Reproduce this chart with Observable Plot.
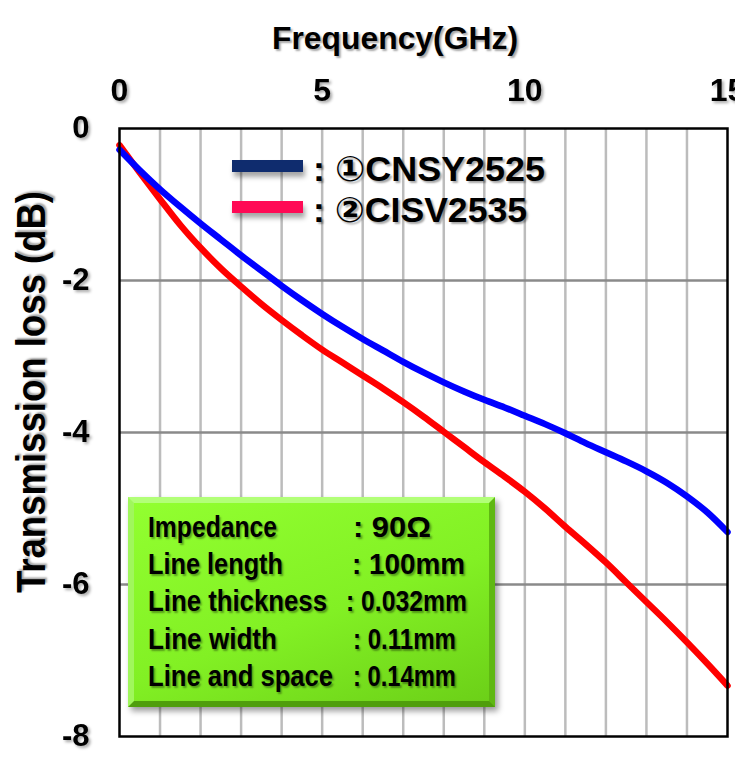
<!DOCTYPE html>
<html>
<head>
<meta charset="utf-8">
<script src="https://cdn.jsdelivr.net/npm/d3@7"></script>
<script src="https://cdn.jsdelivr.net/npm/@observablehq/plot@0.6"></script>
<style>
  html, body { margin: 0; padding: 0; background: #fff; overflow: hidden; }
  #wrap { position: relative; width: 735px; height: 760px; }
  .f { font-family: "Liberation Sans", Arial, "DejaVu Sans", sans-serif; font-weight: bold; color: #000; }
  .shadow { text-shadow: 2px 2px 2px rgba(0,0,0,0.35); }
  #wrap svg text { filter: drop-shadow(2px 2px 1.5px rgba(0,0,0,0.35)); }
  .abs { position: absolute; white-space: nowrap; line-height: 1; }
  .sw { position: absolute; height: 12px; box-shadow: 2px 5px 5px rgba(0,0,0,0.35); }
  #info { position: absolute; left: 128px; top: 497px; width: 367px; height: 210px; box-sizing: border-box;
          background: linear-gradient(160deg, #92ff30, #82f024 55%, #6cd018);
          border: 6px solid; border-color: #b2ff78 #5fb812 #4f9e0c #a0f75c;
          box-shadow: 3px 4px 6px rgba(0,0,0,0.4); }
</style>
</head>
<body>
<div id="wrap"></div>
<script>
// ---- data ----
const freq = [0,0.5,1,1.5,2,2.5,3,3.5,4,4.5,5,5.5,6,6.5,7,7.5,8,8.5,9,9.5,10,10.5,11,11.5,12,12.5,13,13.5,14,14.5,15];
const cnsy2525 = [-0.28,-0.55,-0.80,-1.03,-1.25,-1.46,-1.67,-1.87,-2.07,-2.26,-2.44,-2.61,-2.77,-2.92,-3.07,-3.21,-3.34,-3.46,-3.57,-3.67,-3.78,-3.89,-4.01,-4.14,-4.26,-4.38,-4.51,-4.66,-4.84,-5.05,-5.31];
const cisv2535 = [-0.22,-0.58,-0.93,-1.27,-1.57,-1.84,-2.08,-2.31,-2.52,-2.72,-2.91,-3.08,-3.25,-3.42,-3.60,-3.79,-3.99,-4.19,-4.39,-4.58,-4.78,-5.00,-5.24,-5.47,-5.71,-5.97,-6.23,-6.49,-6.76,-7.04,-7.33];
const xTicks = [0,5,10,15];
const yTicks = [0,-2,-4,-6,-8];
const xGrid = [1,2,3,4,5,6,7,8,9,10,11,12,13,14];
const yGrid = [-2,-4,-6];
const seriesNames = [": \u2460CNSY2525", ": \u2461CISV2535"];
const infoLabels = ["Impedance","Line length","Line thickness","Line width","Line and space"];
const infoValues = [": 90\u03A9",": 100mm",": 0.032mm",": 0.11mm",": 0.14mm"];

const rowsCNSY = freq.map((f,i)=>({f, v: cnsy2525[i]}));
const rowsCISV = freq.map((f,i)=>({f, v: cisv2535[i]}));

const FONT = '"Liberation Sans", Arial, "DejaVu Sans", sans-serif';

const chart = Plot.plot({
  width: 735, height: 760,
  marginLeft: 119, marginRight: 8, marginTop: 128, marginBottom: 24,
  x: {domain: [0, 15]},
  y: {domain: [-8, 0]},
  style: {fontFamily: FONT, fontWeight: "bold", fontSize: "32px", color: "#000", background: "transparent", overflow: "visible"},
  marks: [
    Plot.ruleX(xGrid, {stroke: "#bcbcbc", strokeWidth: 2.5}),
    Plot.ruleY(yGrid, {stroke: "#8a8a8a", strokeWidth: 2.5}),
    Plot.line(rowsCISV, {x: "f", y: "v", stroke: "#ff0000", strokeWidth: 6.5, curve: "monotone-x"}),
    Plot.line(rowsCNSY, {x: "f", y: "v", stroke: "#0000ff", strokeWidth: 6.5, curve: "monotone-x"}),
    Plot.frame({stroke: "#000", strokeWidth: 2.5}),
    Plot.axisX(xTicks, {anchor: "top", tickSize: 0, tickPadding: 28, label: null, fontSize: 32, fontWeight: "bold"}),
    Plot.axisY(yTicks, {anchor: "left", tickSize: 0, tickPadding: 30, label: null, fontSize: 31, fontWeight: "bold", tickFormat: d => d === 0 ? "0" : "-" + Math.abs(d)})
  ]
});

const wrap = document.getElementById("wrap");
wrap.appendChild(chart);

// place a text: x,y = anchor point; anchor "left"|"center"; width = target width (scaled horizontally)
function place(parent, txt, o) {
  const d = document.createElement("div");
  d.className = "abs f shadow";
  d.textContent = txt;
  d.style.fontSize = o.size + "px";
  d.style.left = o.x + "px";
  d.style.top = o.y + "px";
  parent.appendChild(d);
  const w = d.getBoundingClientRect().width;
  const s = o.width ? o.width / w : 1;
  const tx = o.anchor === "center" ? "-50%" : "0";
  d.style.transformOrigin = o.anchor === "left" ? "0 50%" : "50% 50%";
  d.style.transform = `translate(${tx},-50%) ${o.rotate ? "rotate(" + o.rotate + "deg)" : ""} scaleX(${s})`;
  return d;
}

// title
place(wrap, "Frequency(GHz)", {x: 395, y: 38, size: 32, width: 246, anchor: "center"});
// y label
place(wrap, "Transmission loss (dB)", {x: 31, y: 392, size: 41, width: 402, anchor: "center", rotate: -90});

// legend
const swColors = ["#0f2c6e", "#ff0a55"];
const legY = [166, 207];
const legW = [232, 214];
swColors.forEach((c,i)=>{
  const s = document.createElement("div");
  s.className = "sw";
  s.style.left = "232px"; s.style.top = (legY[i] - 6) + "px"; s.style.width = "71px";
  s.style.background = c;
  wrap.appendChild(s);
  place(wrap, seriesNames[i], {x: 313, y: legY[i] + 2, size: 35, width: legW[i], anchor: "left"});
});

// info box
const info = document.createElement("div");
info.id = "info";
wrap.appendChild(info);
const rowY = [527, 564, 601, 639, 676];
const labW = [129, 135, 179, 129, 185];
const valX = [353, 352, 346, 353, 353];
const valW = [78, 113, 121, 103, 103];
infoLabels.forEach((l,i)=>{
  place(wrap, l, {x: 148, y: rowY[i], size: 30, width: labW[i], anchor: "left"});
  place(wrap, infoValues[i], {x: valX[i], y: rowY[i], size: 30, width: valW[i], anchor: "left"});
});
</script>
</body>
</html>
